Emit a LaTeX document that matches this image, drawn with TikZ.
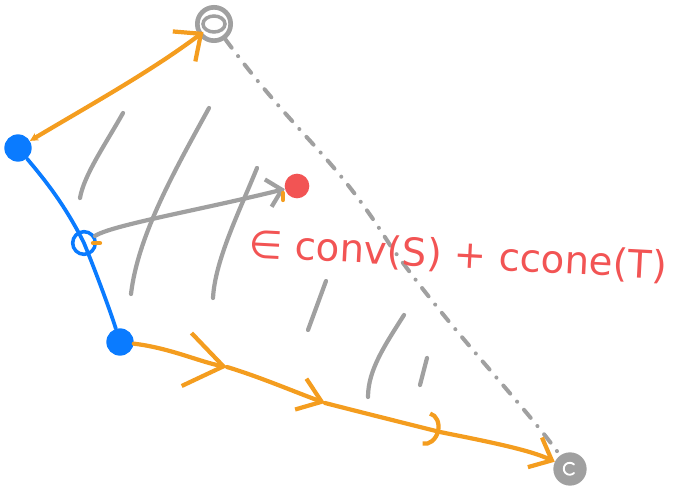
\documentclass[tikz,border=0pt]{standalone}
\usepackage{fontspec}
\setmainfont{DejaVu Sans}
\usetikzlibrary{arrows.meta}
\definecolor{PenOrange}{HTML}{F49D1F}
\definecolor{PenBlue}{HTML}{0A7BFF}
\definecolor{PenGray}{HTML}{A0A0A0}
\definecolor{PenRed}{HTML}{F25454}
\tikzset{
  bluedot/.style={circle,fill=PenBlue,minimum size=0.82cm,inner sep=0pt},
  bluering/.style={circle,draw=PenBlue,line width=3pt,minimum size=0.68cm,inner sep=0pt},
  redspot/.style={circle,fill=PenRed,minimum size=0.74cm,inner sep=0pt},
  grayring/.style={circle,draw=PenGray,line width=4pt,minimum size=1.0cm,inner sep=0pt},
  graydot/.style={circle,fill=PenGray,minimum size=1.0cm,inner sep=0pt},
  edgeO/.style={line width=3.6pt,draw=PenOrange,line cap=round,line join=round},
  edgeB/.style={line width=3.2pt,draw=PenBlue,line cap=round},
  edgeG/.style={line width=3.6pt,draw=PenGray,line cap=round,line join=round},
  hatchline/.style={line width=3.6pt,draw=PenGray,line cap=round},
  dashdotline/.style={line width=3.4pt,draw=PenGray,line cap=round,
    dash pattern=on 9pt off 9pt on 0.1pt off 9pt},
}

\begin{document}
\begin{tikzpicture}[x=0.03cm,y=-0.03cm]
  \useasboundingbox (0,0) rectangle (673,486);
  % vertices
  \node[grayring] (vtop) at (214,24) {};
  \draw[PenGray,line width=3pt] (vtop.center) ellipse[x radius=11,y radius=8];
  \node[bluedot]  (v1)   at (18,148) {};
  \node[bluering] (v2)   at (84,243) {};
  \node[bluedot]  (v3)   at (120,342) {};
  \node[redspot]  (pt)   at (297,186) {};
  \node[graydot]  (vend) at (570,469) {};
  \draw[white,line width=1.6pt,line cap=round] (vend.center) ++(4,4)
    arc[start angle=45,end angle=315,radius=6];
  % hatching
  \draw[hatchline] (123,113) .. controls (105,145) and (84,175) .. (80,198);
  \draw[hatchline] (209,108) .. controls (175,170) and (138,235) .. (131,294);
  \draw[hatchline] (257,168) .. controls (240,210) and (215,260) .. (213,298);
  \draw[hatchline] (326,281) -- (308,330);
  \draw[hatchline] (404,315) .. controls (385,345) and (368,370) .. (368,397);
  \draw[hatchline] (427,358) -- (420,385);
  % edges
  \draw[dashdotline] (vtop) .. controls (300,140) and (330,150) .. (390,245)
    .. controls (450,330) and (520,400) .. (vend);
  \draw[edgeO,{Stealth[length=7pt,width=7pt]}-{Straight Barb[length=18pt,width=32pt]},
    shorten >=-5pt]
    (v1) .. controls (90,105) and (150,72) .. (vtop);
  \draw[edgeB] (v1) .. controls (45,180) and (65,205) .. (v2.center)
    .. controls (95,270) and (110,310) .. (v3);
  \draw[edgeG,-{Straight Barb[length=12pt,width=24pt]}]
    (v2) .. controls (112,225) and (200,210) .. (pt);
  \draw[edgeO] (93,243) -- (100,243);
  \draw[edgeO] (283,193) -- (283,200);
  % lower path
  \coordinate (k1) at (227,367);
  \coordinate (k2) at (325,403);
  \coordinate (k3) at (440,432);
  \draw[edgeO,-{Straight Barb[length=32pt,width=46pt]}]
    (v3) .. controls (170,348) and (200,362) .. (k1);
  \draw[edgeO,-{Straight Barb[length=19pt,width=28pt]}]
    (k1) .. controls (260,377) and (295,392) .. (k2);
  \draw[edgeO,-{Arc Barb[length=12pt,width=30pt]}]
    (k2) .. controls (360,412) and (400,422) .. (k3);
  \draw[edgeO,-{Straight Barb[length=16pt,width=28pt]}]
    (k3) .. controls (490,442) and (530,450) .. (vend);
  % label
  \node[text=PenRed,font=\fontsize{33}{38}\selectfont,rotate=-3,inner sep=0pt]
    (lbl) at (458,256) {∈ conv(S) + ccone(T)};
\end{tikzpicture}
\end{document}
